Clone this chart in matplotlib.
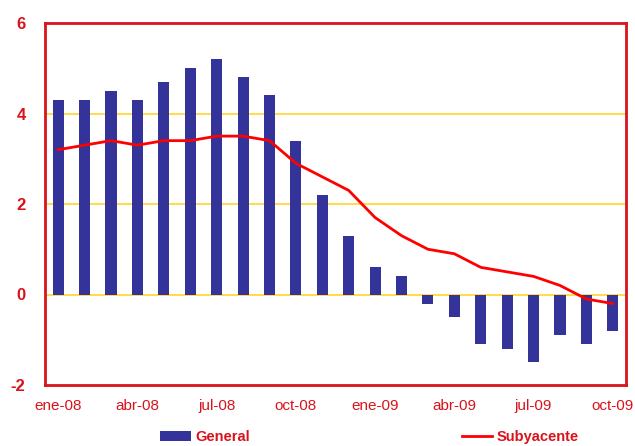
import numpy as np
import matplotlib.pyplot as plt

plt.rcParams['font.family'] = ['Liberation Sans', 'DejaVu Sans']
plt.rcParams['axes.unicode_minus'] = False

months = ['ene-08', 'feb-08', 'mar-08', 'abr-08', 'may-08', 'jun-08', 'jul-08', 'ago-08',
          'sep-08', 'oct-08', 'nov-08', 'dic-08', 'ene-09', 'feb-09', 'mar-09', 'abr-09',
          'may-09', 'jun-09', 'jul-09', 'ago-09', 'sep-09', 'oct-09']
general = [4.3, 4.3, 4.5, 4.3, 4.7, 5.0, 5.2, 4.8, 4.4, 3.4, 2.2, 1.3, 0.6, 0.4,
           -0.2, -0.5, -1.1, -1.2, -1.5, -0.9, -1.1, -0.8]
subyacente = [3.2, 3.3, 3.4, 3.3, 3.4, 3.4, 3.5, 3.5, 3.4, 2.9, 2.6, 2.3, 1.7, 1.3,
              1.0, 0.9, 0.6, 0.5, 0.4, 0.2, -0.1, -0.2]

red = '#D9131B'
x = np.arange(len(months))

fig = plt.figure(figsize=(6.35, 4.46), dpi=100)
ax = fig.add_axes([45 / 635, 61 / 446, 581 / 635, 362 / 446])

for yv in [0, 2, 4]:
    ax.axhline(yv, color='#FFD83A', lw=1.3, zorder=1)

bars = ax.bar(x, general, width=0.42, color='#333399', zorder=2, label='General')
line, = ax.plot(x, subyacente, color='#FF0000', lw=2, zorder=3, label='Subyacente')

ax.set_xlim(-0.5, len(months) - 0.5)
ax.set_ylim(-2, 6)
ax.set_yticks([-2, 0, 2, 4, 6])
ax.set_xticks(x[::3])
ax.set_xticklabels(months[::3])
ax.tick_params(axis='both', length=0, colors=red)
ax.tick_params(axis='x', labelsize=11, pad=10)
ax.tick_params(axis='y', labelsize=12, pad=14)
for lab in ax.get_yticklabels():
    lab.set_fontweight('bold')

for s in ax.spines.values():
    s.set_color(red)
    s.set_linewidth(2)

leg = fig.legend([bars, line], ['General', 'Subyacente'], loc='center',
                 bbox_to_anchor=(0.582, 0.02), ncol=2, frameon=False,
                 columnspacing=14.5, handlelength=2.1, handletextpad=0.3,
                 prop={'weight': 'bold', 'size': 10.5})
for t in leg.get_texts():
    t.set_color(red)

fig.savefig('out.png', dpi=100)
